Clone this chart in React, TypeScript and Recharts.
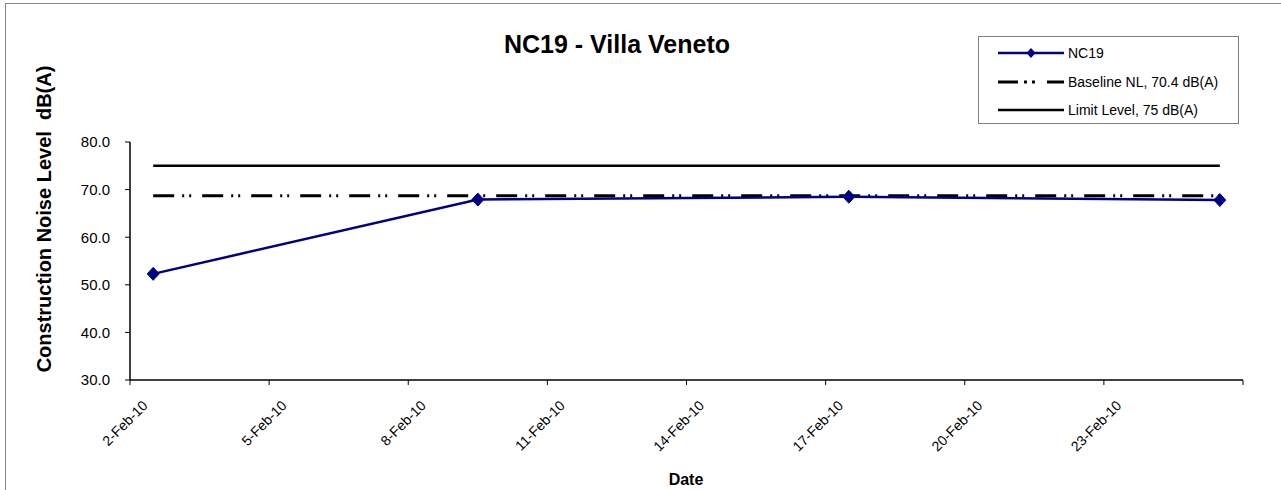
import React from 'react';
import { LineChart, Line, XAxis, YAxis, Legend } from 'recharts';

// measurement dates (noon readings) and levels
const measureDates = ['2010-02-02T12:00:00Z', '2010-02-09T12:00:00Z', '2010-02-17T12:00:00Z', '2010-02-25T12:00:00Z'];
const nc19Levels = [52.3, 67.9, 68.5, 67.8];
const baselineLevels = [68.7, 68.7, 68.7, 68.7];
const limitLevels = [75, 75, 75, 75];

const xTickDates = ['2010-02-02', '2010-02-05', '2010-02-08', '2010-02-11', '2010-02-14', '2010-02-17', '2010-02-20', '2010-02-23', '2010-02-26'];
const yTicks = [30, 40, 50, 60, 70, 80];

const MONTHS = ['Jan', 'Feb', 'Mar', 'Apr', 'May', 'Jun', 'Jul', 'Aug', 'Sep', 'Oct', 'Nov', 'Dec'];
const FONT = '"Liberation Sans", Arial, sans-serif';
const NAVY = '#000080';

const toTime = (s: string) => new Date(s.length === 10 ? s + 'T00:00:00Z' : s).getTime();
const fmtDate = (t: number) => {
  const d = new Date(t);
  return `${d.getUTCDate()}-${MONTHS[d.getUTCMonth()]}-${String(d.getUTCFullYear()).slice(2)}`;
};

const xTicks = xTickDates.map(toTime);
const xStart = xTicks[0];
const xEnd = xTicks[xTicks.length - 1];

const data = measureDates.map((d, i) => ({
  t: toTime(d),
  nc19: nc19Levels[i],
  baseline: baselineLevels[i],
  limit: limitLevels[i],
}));

const DateTick = (props: any) => {
  const { x, y, payload } = props;
  // last tick (26-Feb) has no label in the original
  if (payload.value === xEnd) return <g />;
  return (
    <g transform={`translate(${x + 15},${y + 16})`}>
      <text textAnchor="end" dy="0.35em" transform="rotate(-45)" fontSize={14} fill="#000" fontFamily={FONT}>
        {fmtDate(payload.value)}
      </text>
    </g>
  );
};

const Diamond = (props: any) => {
  const { cx, cy } = props;
  if (cx == null || cy == null) return <g />;
  return <polygon points={`${cx},${cy - 6.5} ${cx + 6},${cy} ${cx},${cy + 6.5} ${cx - 6},${cy}`} fill={NAVY} stroke={NAVY} strokeWidth={1} />;
};

const legendRows = [
  { label: 'NC19', color: NAVY, dash: undefined as string | undefined, marker: true, top: 15.5 },
  { label: 'Baseline NL, 70.4 dB(A)', color: '#000', dash: '20 6 3 5 3 12', marker: false, top: 45 },
  { label: 'Limit Level, 75 dB(A)', color: '#000', dash: undefined, marker: false, top: 73 },
];

const NoiseLegend = () => (
  <div style={{ position: 'relative', width: 261, height: 88, boxSizing: 'border-box', border: '1px solid #808080', background: '#fff', fontFamily: FONT, fontSize: 14, color: '#000' }}>
    {legendRows.map((r) => (
      <div key={r.label} style={{ position: 'absolute', left: 19, top: r.top - 10, height: 20, display: 'flex', alignItems: 'center', whiteSpace: 'nowrap' }}>
        <svg width={66} height={14} style={{ display: 'block' }}>
          <line x1={0} y1={7} x2={66} y2={7} stroke={r.color} strokeWidth={r.dash ? 3 : 2.5} strokeDasharray={r.dash} />
          {r.marker && <polygon points="33,2 37.5,7 33,12 28.5,7" fill={NAVY} />}
        </svg>
        <span style={{ marginLeft: 4 }}>{r.label}</span>
      </div>
    ))}
  </div>
);

export default function App() {
  return (
    <div style={{ position: 'fixed', left: 0, top: 0, width: 1281, height: 490, background: '#fff', overflow: 'hidden' }}>
      <div style={{ position: 'absolute', left: 5, top: 3, width: 1320, height: 540, borderLeft: '1px solid #868686', borderTop: '1px solid #868686' }} />
      <LineChart width={1281} height={490} data={data} margin={{ top: 142, right: 38, bottom: 0, left: 0 }}>
        <text x={617} y={53} textAnchor="middle" fontSize={25} fontWeight="bold" fontFamily={FONT} fill="#000">
          NC19 - Villa Veneto
        </text>
        <text transform="translate(51,219) rotate(-90)" textAnchor="middle" fontSize={20} fontWeight="bold" fontFamily={FONT} fill="#000" style={{ whiteSpace: 'pre' }}>
          Construction Noise Level  dB(A)
        </text>
        <text x={686} y={485} textAnchor="middle" fontSize={16} fontWeight="bold" fontFamily={FONT} fill="#000">
          Date
        </text>
        <XAxis
          dataKey="t"
          type="number"
          domain={[xStart, xEnd]}
          ticks={xTicks}
          interval={0}
          height={110}
          tick={<DateTick />}
          tickSize={5}
          axisLine={{ stroke: '#000', strokeWidth: 1.5 }}
          tickLine={{ stroke: '#000' }}
          allowDataOverflow
        />
        <YAxis
          type="number"
          domain={[30, 80]}
          ticks={yTicks}
          width={130}
          tickSize={5}
          tickMargin={15}
          tickFormatter={(v: number) => v.toFixed(1)}
          tick={{ fontSize: 15, fill: '#000', fontFamily: FONT }}
          axisLine={{ stroke: '#000', strokeWidth: 1.5 }}
          tickLine={{ stroke: '#000' }}
        />
        <Legend
          layout="vertical"
          align="center"
          verticalAlign="middle"
          content={<NoiseLegend />}
          wrapperStyle={{ left: 978, top: 36, width: 261, height: 88 }}
        />
        <Line dataKey="baseline" name="Baseline NL, 70.4 dB(A)" type="linear" stroke="#000" strokeWidth={3} strokeDasharray="21 8 2 5 2 11" dot={false} activeDot={false} isAnimationActive={false} />
        <Line dataKey="limit" name="Limit Level, 75 dB(A)" type="linear" stroke="#000" strokeWidth={2.5} dot={false} activeDot={false} isAnimationActive={false} />
        <Line dataKey="nc19" name="NC19" type="linear" stroke={NAVY} strokeWidth={2.5} dot={<Diamond />} activeDot={false} isAnimationActive={false} />
      </LineChart>
    </div>
  );
}
